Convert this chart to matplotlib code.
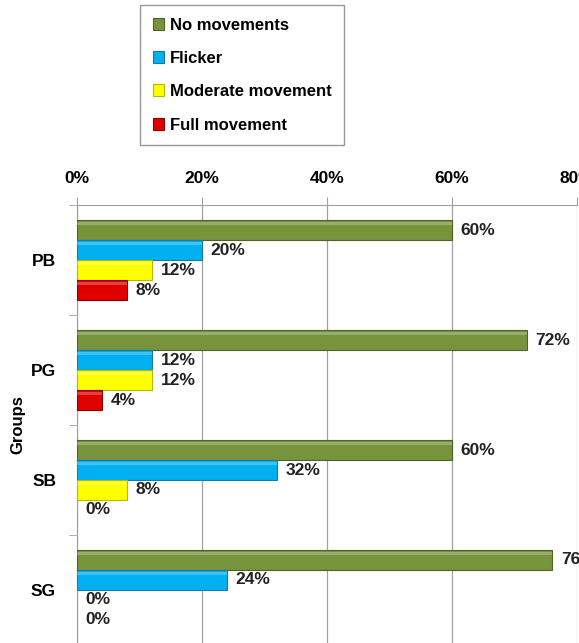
import numpy as np
import matplotlib.pyplot as plt
from matplotlib.ticker import PercentFormatter

groups = ['PB', 'PG', 'SB', 'SG']
series = ['No movements', 'Flicker', 'Moderate movement', 'Full movement']
no_move = [60, 72, 60, 76]
flicker = [20, 12, 32, 24]
moderate = [12, 12, 8, 0]
full = [8, 4, 0, 0]

colors = ['#77933C', '#00B0F0', '#FFFF00', '#E00000']
edges = ['#4F6228', '#1F77A8', '#B8B800', '#8B0000']

plt.rcParams['font.family'] = ['Liberation Sans', 'DejaVu Sans']
plt.rcParams['font.weight'] = 'bold'

fig = plt.figure(figsize=(5.79, 6.43), dpi=100)
ax = fig.add_axes([77 / 579, -0.003, 500 / 579, 0.684])

y = np.arange(len(groups))
h = 20 / 110
offsets = [-1.5 * h, -0.5 * h, 0.5 * h, 1.5 * h]
handles = []
for vals, name, c, ec, off in zip([no_move, flicker, moderate, full], series, colors, edges, offsets):
    lw = [0.8 if v > 0 else 0 for v in vals]
    bars = ax.barh(y + off, vals, height=h * 0.97, color=c, edgecolor=ec, linewidth=lw, label=name, zorder=3)
    handles.append(bars)
    # light bevel strip on top of each bar
    ax.barh(y + off - h * 0.32, vals, height=h * 0.15, color='white', alpha=0.25, linewidth=0, zorder=4)
    for b, v in zip(bars, vals):
        ax.text(v + 1.4, b.get_y() + b.get_height() / 2, f'{v}%', va='center', ha='left',
                fontsize=12.5, fontweight='bold', color='#222222', clip_on=False)

ax.set_xlim(0, 80)
ax.set_ylim(3.5, -0.5)
ax.xaxis.set_major_formatter(PercentFormatter(decimals=0))
ax.set_xticks([0, 20, 40, 60, 80])
ax.xaxis.tick_top()
ax.tick_params(axis='x', direction='out', length=6, color='#A0A0A0', pad=8, labelsize=12.5)
ax.set_yticks(y)
ax.set_yticklabels(groups)
ax.set_yticks([-0.5, 0.5, 1.5, 2.5, 3.5], minor=True)
ax.tick_params(axis='y', which='major', length=0, pad=15, labelsize=12.5)
ax.tick_params(axis='y', which='minor', length=6, color='#A0A0A0')
ax.grid(axis='x', color='#A0A0A0', linewidth=0.9, zorder=0)
for s in ['right', 'bottom']:
    ax.spines[s].set_visible(False)
for s in ['top', 'left']:
    ax.spines[s].set_color('#A0A0A0')
ax.set_ylabel('Groups', fontsize=12, fontweight='bold', labelpad=4)

fig.legend(handles=handles, labels=series, loc='upper left',
           bbox_to_anchor=(140 / 579, 1 - 5 / 643), frameon=True, fancybox=False,
           edgecolor='#808080', fontsize=12, handlelength=0.7, handleheight=0.7, handletextpad=0.35,
           labelspacing=1.1, borderpad=0.75, borderaxespad=0)

fig.savefig('out.png', dpi=100)
